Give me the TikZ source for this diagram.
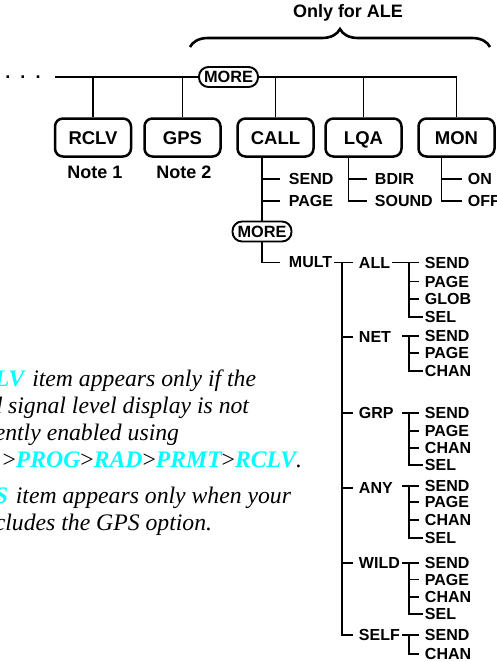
\documentclass[tikz,border=0pt]{standalone}
\usepackage{fontspec}
\setmainfont{Liberation Serif}
\setsansfont{Liberation Sans}
\usetikzlibrary{
    decorations.pathreplacing,
    calc,
    positioning
}
\definecolor{kwcyan}{RGB}{0,255,255}
\definecolor{txtblack}{RGB}{0,0,1}
\newcommand{\kw}[1]{{\color{kwcyan}\bfseries #1}}
\newcommand{\gt}{\textup{>}}

\begin{document}
\begin{tikzpicture}[x=1pt, y=-1pt, line width=1.9pt,
    menubox/.style={draw, line width=2.5pt, rounded corners=8pt, minimum width=76pt, minimum height=38pt, inner sep=1pt, text height=13.2pt, text depth=0pt, font=\sffamily\bfseries\fontsize{18.5}{21}\selectfont},
    moreoval/.style={draw, line width=1.9pt, rounded corners=9.5pt, minimum width=59pt, minimum height=20pt, inner sep=1pt, font=\sffamily\bfseries\fontsize{16.3}{18}\selectfont},
    item/.style={anchor=west, inner sep=1pt, font=\sffamily\bfseries\fontsize{16}{18}\selectfont},
    note/.style={inner sep=1pt, font=\sffamily\bfseries\fontsize{18}{20}\selectfont},
    remark/.style={anchor=base east, inner sep=0pt, text=txtblack, font=\itshape\fontsize{23.7}{27}\selectfont},
    stub/.style={shorten >=#1}, stub/.default=4pt]
                                    \useasboundingbox (0,0) rectangle (496,662);
                                    \clip (0,0) rectangle (496,662);
                                    \node[remark] (r1) at (257,386) {item appears only if the};
                                    \node[remark] (r2) at (250,413) {received signal level display is not};
                                    \node[remark] (r3) at (180,440) {permanently enabled using};
                                    \node[remark] (r4) at (303,467) {\gt\kw{PROG}\gt\kw{RAD}\gt\kw{PRMT}\gt\kw{RCLV}.};
                                    \node[remark] (r5) at (292,503) {item appears only when your};
                                    \node[remark] (r6) at (213,530) {includes the GPS option.};
                                    \node[remark, text=kwcyan] (r1kw) at ([xshift=-6pt]r1.base west) {\bfseries LV};
                                    \node[remark, text=kwcyan] (r5kw) at ([xshift=-6pt]r5.base west) {\bfseries S};
                                    \node[note] (ale) at (348,13) {Only for ALE};
                                    \coordinate (braceL) at (190,47);
                                    \coordinate (braceR) at (490,47);
                                    \draw[line width=2.6pt, decorate, decoration={brace, amplitude=18pt}] (braceL) -- (braceR);
                                    \node[note] (dots) at (23,77) {.\hspace{10pt}.\hspace{10pt}.};
                                    \coordinate (lineL) at (55,77);
                                    \node[moreoval] (more1) at (228.5,77) {MORE};
                                    \node[menubox] (rclv) at (93,137.5) {RCLV};
                                    \node[menubox] (gps) at (182.5,137.5) {GPS};
                                    \node[menubox] (call) at (275.5,137.5) {CALL};
                                    \node[menubox] (lqa) at (363.5,137.5) {LQA};
                                    \node[menubox] (mon) at (456.5,137.5) {MON};
                                    \node[note] (note1) at (95,172) {Note 1};
                                    \node[note] (note2) at (184,172) {Note 2};
                                    \draw
                                    (lineL) -- (more1)
                                    (lineL) -| (rclv)
                                    (lineL) -| (gps)
                                    (more1) -| (call)
                                    (more1) -| (lqa)
                                    (more1) -| (mon);
                                    \node[item] (csend) at (287,179) {SEND};
                                    \node[item] (cpage) at (287,201) {PAGE};
                                    \node[moreoval] (more2) at (262,231.5) {MORE};
                                    \node[item] (mult) at (287,262.5) {MULT};
                                    \coordinate (lqaT) at ([xshift=-15pt]lqa.south);
                                    \coordinate (monT) at ([xshift=-15pt]mon.south);
                                    \node[item] (bdir) at (373,179) {BDIR};
                                    \node[item] (sound) at (373,201) {SOUND};
                                    \node[item] (on) at (466,179) {ON};
                                    \node[item] (off) at (466,201) {OFF};
                                    \draw (call.south -| more2) -- (more2);
                                    \draw[stub=7pt]
                                    (more2 |- csend) edge (csend)
                                    (more2 |- cpage) edge (cpage)
                                    (more2) |- (mult);
                                    \draw[stub=6pt]
                                    (lqaT |- bdir) edge (bdir)
                                    (lqaT) |- (sound);
                                    \draw[stub]
                                    (monT |- on) edge (on)
                                    (monT) |- (off);
                                    \coordinate (mT) at (342,262.5);
                                    \node[item] (all) at (357,262.5) {ALL};
                                    \node[item] (net) at (357,337) {NET};
                                    \node[item] (grp) at (357,413) {GRP};
                                    \node[item] (any) at (357,488) {ANY};
                                    \node[item] (wild) at (357,563) {WILD};
                                    \node[item] (self) at (357,635) {SELF};
                                    \draw[stub]
                                    (mult) edge (all)
                                    (mT |- net) edge (net)
                                    (mT |- grp) edge (grp)
                                    (mT |- any) edge (any)
                                    (mT |- wild) edge (wild)
                                    (mT) |- (self);
                                    \node[item] (allsend) at (423,262.5) {SEND};
                                    \node[item] (allpage) at (423,281.5) {PAGE};
                                    \node[item] (allglob) at (423,299) {GLOB};
                                    \node[item] (allsel) at (423,317) {SEL};
                                    \node[item] (netsend) at (423,336) {SEND};
                                    \node[item] (netpage) at (423,353) {PAGE};
                                    \node[item] (netchan) at (423,371) {CHAN};
                                    \node[item] (grpsend) at (423,413) {SEND};
                                    \node[item] (grppage) at (423,431) {PAGE};
                                    \node[item] (grpchan) at (423,448) {CHAN};
                                    \node[item] (grpsel) at (423,465) {SEL};
                                    \node[item] (anysend) at (423,486) {SEND};
                                    \node[item] (anypage) at (423,502) {PAGE};
                                    \node[item] (anychan) at (423,520) {CHAN};
                                    \node[item] (anysel) at (423,538) {SEL};
                                    \node[item] (wildsend) at (423,563) {SEND};
                                    \node[item] (wildpage) at (423,579.5) {PAGE};
                                    \node[item] (wildchan) at (423,597) {CHAN};
                                    \node[item] (wildsel) at (423,614) {SEL};
                                    \node[item] (selfsend) at (423,635) {SEND};
                                    \node[item] (selfchan) at (423,654) {CHAN};
                                    \coordinate (allT) at (409,262.5);
                                    \coordinate (netT) at (409,336);
                                    \coordinate (grpT) at (409,413);
                                    \coordinate (anyT) at (409,486);
                                    \coordinate (wildT) at (409,563);
                                    \coordinate (selfT) at (409,635);
                                    \draw[stub]
                                    (all) edge (allsend)
                                    (allT |- allpage) edge (allpage)
                                    (allT |- allglob) edge (allglob)
                                    (allT) |- (allsel)
                                    ([xshift=-7pt]netT) edge (netsend)
                                    (netT |- netpage) edge (netpage)
                                    (netT) |- (netchan)
                                    ([xshift=-7pt]grpT) edge (grpsend)
                                    (grpT |- grppage) edge (grppage)
                                    (grpT |- grpchan) edge (grpchan)
                                    (grpT) |- (grpsel)
                                    ([xshift=-7pt]anyT) edge (anysend)
                                    (anyT |- anypage) edge (anypage)
                                    (anyT |- anychan) edge (anychan)
                                    (anyT) |- (anysel)
                                    (wild) edge (wildsend)
                                    (wildT |- wildpage) edge (wildpage)
                                    (wildT |- wildchan) edge (wildchan)
                                    (wildT) |- (wildsel)
                                    (self) edge (selfsend)
                                    (selfT) |- (selfchan);
                                \end{tikzpicture}
\end{document}
